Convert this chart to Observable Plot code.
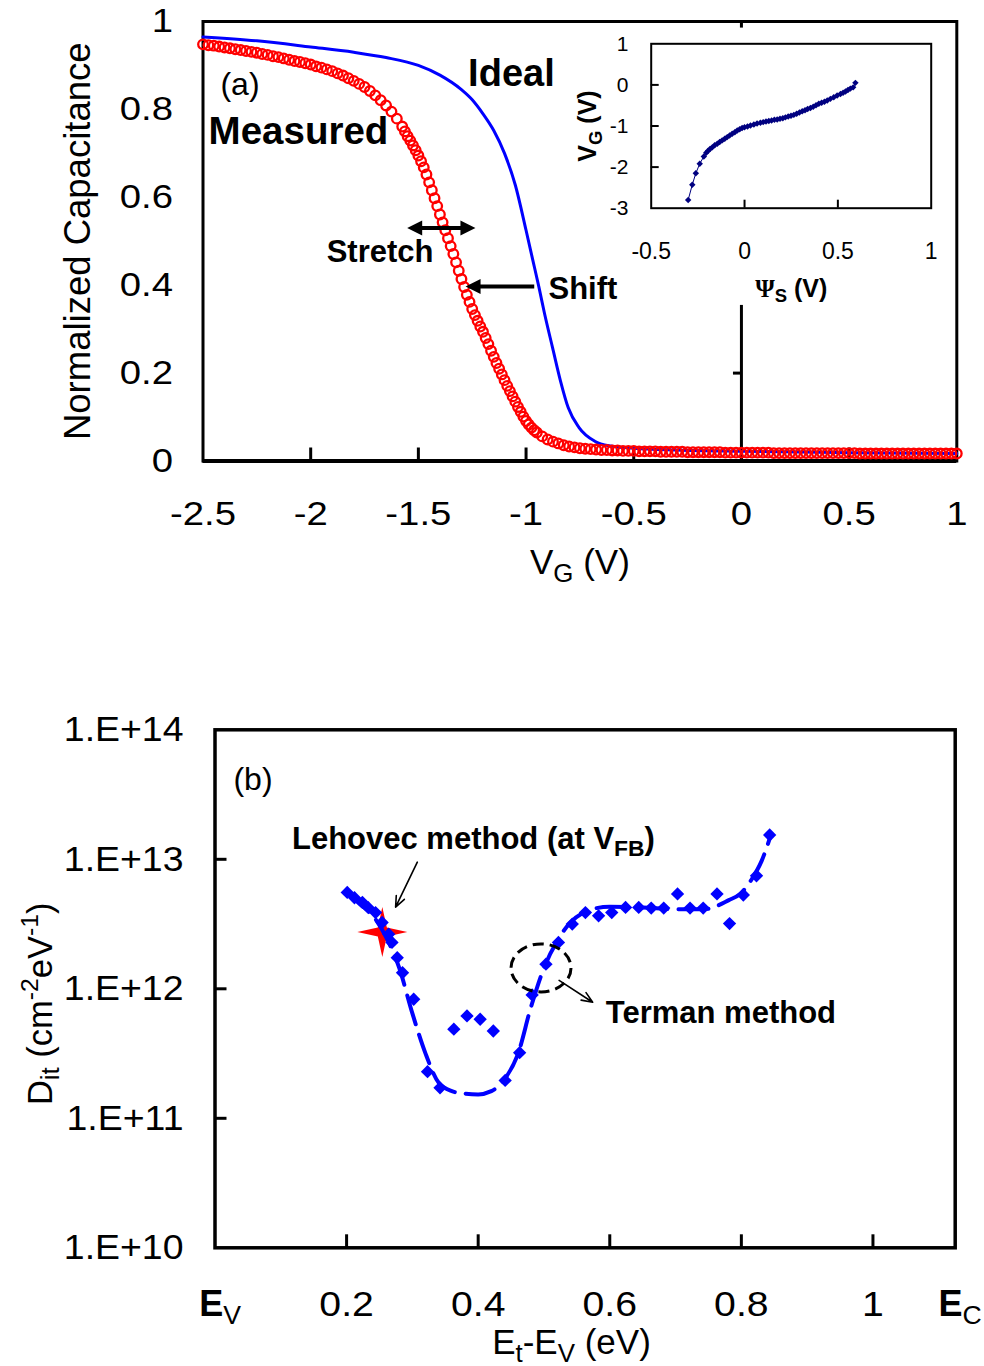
<!DOCTYPE html>
<html>
<head>
<meta charset="utf-8">
<script src="https://cdn.jsdelivr.net/npm/d3@7"></script>
<script src="https://cdn.jsdelivr.net/npm/@observablehq/plot@0.6"></script>
<style>
  html, body { margin: 0; padding: 0; background: #ffffff; }
  #fig { position: relative; width: 984px; height: 1366px; overflow: hidden; background: #ffffff; }
  #fig > svg { display: block; }
</style>
</head>
<body>
<div id="fig"></div>
<script>
// ---------------- DATA : panel (a) main ----------------
const aXTickValues = [-2.5, -2, -1.5, -1, -0.5, 0, 0.5, 1];
const aXTickMarks = [-2, -1.5, -1, -0.5, 0, 0.5];
const aYTickValues = [0, 0.2, 0.4, 0.6, 0.8, 1];
const zeroAxisFrom = [0, 0.985];
const zeroAxisTo = [0.354, 1];
const zeroAxisTicks = [0.2];

const idealVG = [-2.5, -2.25, -2.0, -1.8, -1.65, -1.5, -1.4, -1.3, -1.25, -1.2,
  -1.15, -1.1, -1.05, -1.0, -0.97, -0.94, -0.914, -0.877, -0.84, -0.804,
  -0.754, -0.681, -0.607, -0.5, -0.3, 0, 0.5, 1.0];
const idealC = [0.965, 0.956, 0.942, 0.930, 0.918, 0.900, 0.878, 0.845, 0.822, 0.790,
  0.752, 0.700, 0.628, 0.525, 0.46, 0.395, 0.335, 0.258, 0.182, 0.121,
  0.076, 0.045, 0.034, 0.029, 0.025, 0.022, 0.019, 0.017];

const measuredVG = [
  -2.5, -2.475, -2.45, -2.425, -2.4, -2.375, -2.35, -2.325, -2.3, -2.275,
  -2.25, -2.225, -2.2, -2.175, -2.15, -2.125, -2.1, -2.075, -2.05, -2.025,
  -2, -1.975, -1.95, -1.925, -1.9, -1.875, -1.85, -1.825, -1.8, -1.775,
  -1.75, -1.725, -1.7, -1.675, -1.65, -1.625, -1.6, -1.575,
  -1.5625, -1.55, -1.5375, -1.525, -1.5125, -1.5, -1.4875, -1.475, -1.4625, -1.45,
  -1.4375, -1.425, -1.4125, -1.4, -1.3875, -1.375, -1.3625, -1.35, -1.3375, -1.325,
  -1.3125, -1.3, -1.2875, -1.275, -1.2625, -1.25, -1.2375, -1.225, -1.2125, -1.2,
  -1.1875, -1.175, -1.1625, -1.15, -1.1375, -1.125, -1.1125, -1.1, -1.0875, -1.075,
  -1.0625, -1.05, -1.0375, -1.025, -1.0125, -1.0, -0.9875, -0.975, -0.9625, -0.95,
  -0.925, -0.9, -0.875, -0.85, -0.825, -0.8, -0.775, -0.75, -0.725, -0.7,
  -0.675, -0.65, -0.625, -0.6, -0.575, -0.55, -0.525, -0.5, -0.475, -0.45,
  -0.425, -0.4, -0.375, -0.35, -0.325, -0.3, -0.275, -0.25, -0.225, -0.2,
  -0.175, -0.15, -0.125, -0.1, -0.075, -0.05, -0.025, 0, 0.025, 0.05,
  0.075, 0.1, 0.125, 0.15, 0.175, 0.2, 0.225, 0.25, 0.275, 0.3,
  0.325, 0.35, 0.375, 0.4, 0.425, 0.45, 0.475, 0.5, 0.525, 0.55,
  0.575, 0.6, 0.625, 0.65, 0.675, 0.7, 0.725, 0.75, 0.775, 0.8,
  0.825, 0.85, 0.875, 0.9, 0.925, 0.95, 0.975, 1];
const measuredC = [
  0.948, 0.946, 0.945, 0.943, 0.941, 0.939, 0.937, 0.935, 0.933, 0.931,
  0.929, 0.926, 0.924, 0.921, 0.919, 0.916, 0.913, 0.910, 0.908, 0.905,
  0.902, 0.898, 0.895, 0.891, 0.887, 0.882, 0.877, 0.871, 0.865, 0.858,
  0.851, 0.842, 0.832, 0.821, 0.809, 0.795, 0.779, 0.761,
  0.750, 0.739, 0.729, 0.718, 0.707, 0.695, 0.682, 0.668, 0.652, 0.634,
  0.616, 0.598, 0.580, 0.561, 0.543, 0.525, 0.507, 0.489, 0.471, 0.452,
  0.433, 0.414, 0.396, 0.378, 0.362, 0.346, 0.332, 0.319, 0.306, 0.294,
  0.280, 0.266, 0.251, 0.237, 0.223, 0.210, 0.197, 0.184, 0.171, 0.159,
  0.147, 0.135, 0.123, 0.112, 0.101, 0.091, 0.083, 0.076, 0.070, 0.065,
  0.056, 0.049, 0.044, 0.040, 0.036, 0.033, 0.031, 0.029, 0.028, 0.027,
  0.026, 0.025, 0.025, 0.024, 0.024, 0.023, 0.023, 0.023, 0.022, 0.022,
  0.022, 0.022, 0.021, 0.021, 0.021, 0.021, 0.021, 0.020, 0.020, 0.020,
  0.020, 0.020, 0.020, 0.020, 0.019, 0.019, 0.019, 0.019, 0.019, 0.019,
  0.019, 0.019, 0.019, 0.018, 0.018, 0.018, 0.018, 0.018, 0.018, 0.018,
  0.018, 0.018, 0.018, 0.018, 0.018, 0.018, 0.018, 0.018, 0.018, 0.017,
  0.017, 0.017, 0.017, 0.017, 0.017, 0.017, 0.017, 0.017, 0.017, 0.017,
  0.017, 0.017, 0.017, 0.017, 0.017, 0.017, 0.017, 0.017];

// ---------------- DATA : panel (a) inset ----------------
const iXTickValues = [-0.5, 0, 0.5, 1];
const iXTickMarks = [0, 0.5];
const iYTickValues = [-3, -2, -1, 0, 1];
const iYTickMarks = [-2, -1, 0];
const insetPsi = [
  -0.302, -0.280, -0.261, -0.240, -0.218, -0.205, -0.195, -0.185, -0.173, -0.160,
  -0.146, -0.133, -0.120, -0.106, -0.093, -0.080, -0.066, -0.052, -0.039, -0.026,
  -0.013, 0.000, 0.016, 0.032, 0.050, 0.067, 0.085, 0.100, 0.115, 0.130,
  0.145, 0.160, 0.175, 0.190, 0.205, 0.219, 0.234, 0.249, 0.264, 0.279,
  0.294, 0.309, 0.324, 0.338, 0.353, 0.368, 0.383, 0.398, 0.413, 0.428,
  0.443, 0.460, 0.478, 0.496, 0.514, 0.528, 0.541, 0.554, 0.567, 0.582,
  0.594];
const insetVG = [
  -2.80, -2.43, -2.15, -1.92, -1.74, -1.65, -1.60, -1.56, -1.52, -1.47,
  -1.43, -1.39, -1.35, -1.31, -1.27, -1.23, -1.19, -1.15, -1.11, -1.08,
  -1.05, -1.03, -1.01, -0.99, -0.965, -0.94, -0.92, -0.905, -0.89, -0.88,
  -0.865, -0.85, -0.84, -0.825, -0.81, -0.79, -0.77, -0.75, -0.73, -0.70,
  -0.67, -0.64, -0.615, -0.585, -0.56, -0.53, -0.495, -0.46, -0.435, -0.41,
  -0.38, -0.34, -0.30, -0.26, -0.22, -0.19, -0.16, -0.125, -0.09, -0.06,
  0.05];

// ---------------- DATA : panel (b) ----------------
const bXTickValues = [0.2, 0.4, 0.6, 0.8, 1];
const bXTickMarks = [0.2, 0.4, 0.6, 0.8, 1];
const bandEdges = [0, 1.125];
const bandEdgeLabels = ["*{E}_{V}", "*{E}_{C}"];
const bYTickValues = [1e10, 1e11, 1e12, 1e13, 1e14];
const bYTickMarks = [1e11, 1e12, 1e13];

const termanE = [0.201, 0.212, 0.224, 0.233, 0.244, 0.254, 0.264, 0.269, 0.277, 0.285,
  0.302, 0.323, 0.342, 0.363, 0.383, 0.403, 0.423, 0.441, 0.463, 0.482,
  0.503, 0.522, 0.543, 0.563, 0.583, 0.603, 0.624, 0.644, 0.663, 0.682,
  0.703, 0.722, 0.742, 0.763, 0.782, 0.803, 0.823, 0.843];
const termanDit = [5.55e12, 5.05e12, 4.65e12, 4.23e12, 3.88e12, 3.25e12, 2.64e12, 2.28e12, 1.74e12, 1.33e12,
  8.3e11, 2.29e11, 1.72e11, 4.88e11, 6.17e11, 5.82e11, 4.72e11, 1.96e11, 3.21e11, 8.97e11,
  1.55e12, 2.28e12, 3.16e12, 3.88e12, 3.66e12, 3.88e12, 4.25e12, 4.25e12, 4.2e12, 4.2e12,
  5.4e12, 4.2e12, 4.2e12, 5.4e12, 3.19e12, 5.3e12, 7.46e12, 1.54e13];

const fitE = [0.20, 0.22, 0.24, 0.26, 0.28, 0.30, 0.32, 0.34, 0.36, 0.38,
  0.40, 0.42, 0.44, 0.46, 0.48, 0.50, 0.52, 0.54, 0.56, 0.58,
  0.60, 0.65, 0.70, 0.743, 0.781, 0.798, 0.816, 0.831, 0.845];
const fitDit = [5.62e12, 4.52e12, 3.67e12, 2.51e12, 1.45e12, 6.46e11, 3.16e11, 1.88e11, 1.62e11, 1.55e11,
  1.53e11, 1.62e11, 2.0e11, 3.09e11, 7.16e11, 1.45e12, 2.34e12, 3.24e12, 3.89e12, 4.2e12,
  4.3e12, 4.25e12, 4.12e12, 4.12e12, 4.84e12, 5.4e12, 7.05e12, 9.77e12, 1.55e13];

const lehovecE = [0.2543];
const lehovecDit = [2.74e12];

// ---------------- STYLE ----------------
const SANS = "'Liberation Sans', Arial, Helvetica, sans-serif";
const SERIF = "'Liberation Serif', 'Times New Roman', serif";
const BLUE = "#0000FF";
const RED = "#FF0000";
const NAVY = "#000080";

// custom symbols (tip at origin for arrow heads)
const headLeft = {draw(c) { c.moveTo(0, 0); c.lineTo(15, -7.5); c.lineTo(15, 7.5); c.closePath(); }};
const headRight = {draw(c) { c.moveTo(0, 0); c.lineTo(-15, -7.5); c.lineTo(-15, 7.5); c.closePath(); }};
const star4 = {draw(c) {
  const R = 25, r = 4.5;
  c.moveTo(0, -R); c.lineTo(r, -r); c.lineTo(R, 0); c.lineTo(r, r);
  c.lineTo(0, R); c.lineTo(-r, r); c.lineTo(-R, 0); c.lineTo(-r, -r); c.closePath();
}};
const ellipse = {draw(c) {
  const a = 30, b = 24, k = 0.5523;
  c.moveTo(a, 0);
  c.bezierCurveTo(a, b * k, a * k, b, 0, b);
  c.bezierCurveTo(-a * k, b, -a, b * k, -a, 0);
  c.bezierCurveTo(-a, -b * k, -a * k, -b, 0, -b);
  c.bezierCurveTo(a * k, -b, a, -b * k, a, 0);
  c.closePath();
}};

// ---------------- PANEL (a) ----------------
const aFrameH = 460.5 - 21;
const plotA = Plot.plot({
  width: 984, height: 600,
  marginLeft: 202.5, marginRight: 27.7, marginTop: 21, marginBottom: 139.5,
  style: {fontFamily: SANS, fontSize: "33px", background: "white", color: "black"},
  x: {domain: [-2.5, 1]},
  y: {domain: [0, 1]},
  marks: [
    Plot.ruleX(aXTickMarks, {insetTop: aFrameH - 13, stroke: "black", strokeWidth: 3}),
    Plot.ruleX(zeroAxisFrom, {x: () => 0, y1: d => d, y2: (d, i) => zeroAxisTo[i], stroke: "black", strokeWidth: 3}),
    Plot.ruleY(zeroAxisTicks, {x1: -0.037, x2: 0, stroke: "black", strokeWidth: 3}),
    Plot.frame({stroke: "black", strokeWidth: 3}),
    Plot.ruleY([0], {stroke: "black", strokeWidth: 4}),
    Plot.line(idealVG, {x: d => d, y: (d, i) => idealC[i], stroke: BLUE, strokeWidth: 3, curve: "monotone-x"}),
    Plot.dot(measuredVG, {x: d => d, y: (d, i) => measuredC[i], r: 4.8, stroke: RED, strokeWidth: 2.3, fill: "none"}),
    // Stretch double arrow
    Plot.link(["stretch"], {x1: -1.515, x2: -1.272, y1: 0.530, y2: 0.530, stroke: "black", strokeWidth: 4}),
    Plot.dot(["l"], {x: -1.552, y: 0.530, symbol: headLeft, r: 5, fill: "black", stroke: "none"}),
    Plot.dot(["r"], {x: -1.235, y: 0.530, symbol: headRight, r: 5, fill: "black", stroke: "none"}),
    // Shift arrow
    Plot.link(["shift"], {x1: -0.962, x2: -1.245, y1: 0.397, y2: 0.397, stroke: "black", strokeWidth: 4}),
    Plot.dot(["s"], {x: -1.281, y: 0.397, symbol: headLeft, r: 5, fill: "black", stroke: "none"}),
    // annotations
    Plot.text(["Ideal"], {x: -1.068, y: 0.854, fontSize: 38, fontWeight: "bold", lineAnchor: "bottom"}),
    Plot.text(["Measured"], {x: -2.474, y: 0.722, textAnchor: "start", fontSize: 38.5, fontWeight: "bold", lineAnchor: "bottom"}),
    Plot.text(["(a)"], {x: -2.419, y: 0.832, textAnchor: "start", fontSize: 32, lineAnchor: "bottom"}),
    Plot.text(["Stretch"], {x: -1.678, y: 0.452, fontSize: 31, fontWeight: "bold", lineAnchor: "bottom"}),
    Plot.text(["Shift"], {x: -0.896, y: 0.369, textAnchor: "start", fontSize: 31, fontWeight: "bold", lineAnchor: "bottom"}),
    // axes
    Plot.axisX({ticks: aXTickValues, tickFormat: d => String(d), tickSize: 0, tickPadding: 41, fontSize: 33, label: null}),
    Plot.axisY({ticks: aYTickValues, tickFormat: d => String(d), tickSize: 0, tickPadding: 30, fontSize: 33, label: null}),
    Plot.text(["Normalized Capacitance"], {frameAnchor: "left", textAnchor: "middle", rotate: -90, dx: -124.5, fontSize: 36.5}),
    Plot.text(["V_{G} (V)"], {frameAnchor: "bottom", textAnchor: "middle", dy: 113, lineAnchor: "bottom", fontSize: 35})
  ]
});

// ---------------- INSET ----------------
const iFrameH = 183.7 - 19.3;
const iFrameW = 930.7 - 650.7;
const plotI = Plot.plot({
  width: 385, height: 300,
  marginLeft: 85.7, marginRight: 19.3, marginTop: 19.3, marginBottom: 116.3,
  style: {fontFamily: SANS, fontSize: "20px", background: "transparent", color: "black"},
  x: {domain: [-0.5, 1]},
  y: {domain: [-3, 1]},
  marks: [
    Plot.ruleX(iXTickMarks, {insetTop: iFrameH - 8, stroke: "black", strokeWidth: 2}),
    Plot.ruleY(iYTickMarks, {insetRight: iFrameW - 8, stroke: "black", strokeWidth: 2}),
    Plot.frame({stroke: "black", strokeWidth: 2}),
    Plot.line(insetPsi, {x: d => d, y: (d, i) => insetVG[i], stroke: NAVY, strokeWidth: 1}),
    Plot.dot(insetPsi, {x: d => d, y: (d, i) => insetVG[i], symbol: "diamond2", r: 2.9, fill: NAVY, stroke: "none"}),
    Plot.axisX({ticks: iXTickValues, tickFormat: d => String(d), tickSize: 0, tickPadding: 34, fontSize: 23, label: null}),
    Plot.axisY({ticks: iYTickValues, tickFormat: d => String(d), tickSize: 0, tickPadding: 22.7, fontSize: 21, label: null}),
    Plot.text(["V_{G} (V)"], {frameAnchor: "left", textAnchor: "middle", rotate: -90, dx: -62.7, fontSize: 25, fontWeight: "bold"}),
    Plot.text(["@{Ψ}_{S} (V)"], {frameAnchor: "bottom", textAnchor: "middle", dy: 88.3, lineAnchor: "bottom", fontSize: 25, fontWeight: "bold"})
  ]
});

// ---------------- PANEL (b) ----------------
const bFrameH = 1247.3 - 729.3;
const bFrameW = 954.7 - 214.5;
const plotB = Plot.plot({
  width: 984, height: 766,
  marginLeft: 214.5, marginRight: 29.3, marginTop: 129.3, marginBottom: 118.7,
  style: {fontFamily: SANS, fontSize: "35px", background: "white", color: "black"},
  x: {domain: [0, 1.125]},
  y: {type: "log", domain: [1e10, 1e14]},
  marks: [
    Plot.ruleX(bXTickMarks, {insetTop: bFrameH - 13, stroke: "black", strokeWidth: 3}),
    Plot.ruleY(bYTickMarks, {insetRight: bFrameW - 12, stroke: "black", strokeWidth: 3}),
    Plot.frame({stroke: "black", strokeWidth: 3.5}),
    Plot.dot(lehovecE, {x: d => d, y: (d, i) => lehovecDit[i], symbol: star4, r: 5, fill: RED, stroke: "none"}),
    Plot.line(fitE, {x: d => d, y: (d, i) => fitDit[i], stroke: BLUE, strokeWidth: 4, strokeDasharray: "30,11", curve: "monotone-x"}),
    Plot.dot(termanE, {x: d => d, y: (d, i) => termanDit[i], symbol: "diamond2", r: 6, fill: BLUE, stroke: "none"}),
    Plot.dot(["terman"], {x: 0.4955, y: 1.45e12, symbol: ellipse, r: 5, fill: "none", stroke: "black", strokeWidth: 3, strokeDasharray: "11,6"}),
    Plot.arrow(["lehovec"], {x1: 0.3075, y1: 9.5e12, x2: 0.2745, y2: 4.27e12, stroke: "black", strokeWidth: 1.6, headLength: 11, headAngle: 45}),
    Plot.arrow(["terman"], {x1: 0.523, y1: 1.16e12, x2: 0.574, y2: 7.87e11, stroke: "black", strokeWidth: 1.6, headLength: 11, headAngle: 45}),
    Plot.text(["(b)"], {x: 0.028, y: 3.4e13, textAnchor: "start", fontSize: 32, lineAnchor: "bottom"}),
    Plot.text(["Lehovec method (at V_{FB})"], {x: 0.117, y: 1.205e13, textAnchor: "start", fontSize: 31, fontWeight: "bold", lineAnchor: "bottom"}),
    Plot.text(["Terman method"], {x: 0.594, y: 5.42e11, textAnchor: "start", fontSize: 31, fontWeight: "bold", lineAnchor: "bottom"}),
    Plot.axisX({ticks: bXTickValues, tickFormat: d => String(d), tickSize: 0, tickPadding: 43, fontSize: 35, label: null}),
    Plot.axisY({ticks: bYTickValues, tickFormat: d => "1.E+" + Math.round(Math.log10(d)), tickSize: 0, tickPadding: 31.5, fontSize: 35, label: null}),
    Plot.text(bandEdges, {x: d => d, text: (d, i) => bandEdgeLabels[i], frameAnchor: "bottom", lineAnchor: "top", dy: 43, dx: 5, fontSize: 36}),
    Plot.text(["E_{t}-E_{V} (eV)"], {frameAnchor: "bottom", textAnchor: "middle", dx: -13.6, dy: 106.5, lineAnchor: "bottom", fontSize: 35}),
    Plot.text(["D_{it} (cm^{-2}eV^{-1})"], {frameAnchor: "left", textAnchor: "middle", rotate: -90, dx: -174.5, dy: 15, fontSize: 34.5})
  ]
});

// ---------------- assemble ----------------
const fig = document.getElementById("fig");
fig.appendChild(plotA);
fig.appendChild(plotB);
plotI.style.position = "absolute";
plotI.style.left = "565px";
plotI.style.top = "24px";
plotI.style.maxWidth = "none";
fig.appendChild(plotI);

// rich text: _{sub} ^{sup} *{bold} @{serif}
function richify(svg) {
  const NS = "http://www.w3.org/2000/svg";
  svg.querySelectorAll("text").forEach(t => {
    const leaves = t.querySelector("tspan") ? Array.from(t.querySelectorAll("tspan")) : [t];
    leaves.forEach(el => {
      const s = el.textContent;
      if (!/[_^*@]\{/.test(s)) return;
      const fs = parseFloat(getComputedStyle(el).fontSize) || 16;
      while (el.firstChild) el.removeChild(el.firstChild);
      const re = /([_^*@])\{([^}]*)\}|([^_^*@]+)|([_^*@])/g;
      let m, shift = 0;
      while ((m = re.exec(s))) {
        const ts = document.createElementNS(NS, "tspan");
        let target = 0;
        if (m[1]) {
          ts.textContent = m[2];
          if (m[1] === "_") { ts.setAttribute("font-size", (fs * 0.74).toFixed(1)); target = fs * 0.22; }
          else if (m[1] === "^") { ts.setAttribute("font-size", (fs * 0.72).toFixed(1)); target = -fs * 0.4; }
          else if (m[1] === "*") ts.setAttribute("font-weight", "bold");
          else ts.setAttribute("font-family", SERIF);
        } else {
          ts.textContent = m[3] || m[4];
        }
        if (Math.abs(target - shift) > 0.001) ts.setAttribute("dy", (target - shift).toFixed(2));
        shift = target;
        el.appendChild(ts);
      }
    });
  });
}
function stretchText(svg, selector, f) {
  svg.querySelectorAll(selector).forEach(t => {
    const L = t.getComputedTextLength();
    if (L > 0) {
      t.setAttribute("textLength", (L * f).toFixed(1));
      t.setAttribute("lengthAdjust", "spacingAndGlyphs");
    }
  });
}
[plotA, plotB, plotI].forEach(richify);
stretchText(plotA, 'g[aria-label="x-axis tick label"] text, g[aria-label="y-axis tick label"] text', 1.16);
stretchText(plotB, 'g[aria-label="x-axis tick label"] text', 1.12);
stretchText(plotB, 'g[aria-label="y-axis tick label"] text', 1.07);
</script>
</body>
</html>
